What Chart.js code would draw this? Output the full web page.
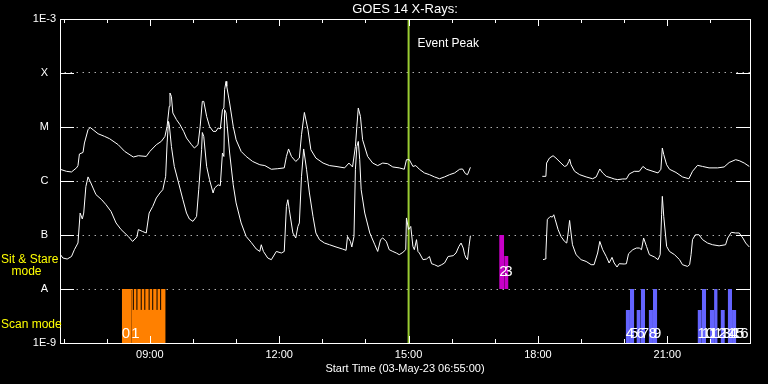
<!DOCTYPE html>
<html><head><meta charset="utf-8">
<script src="https://cdn.jsdelivr.net/npm/chart.js@4/dist/chart.umd.min.js"></script>
<style>html,body{margin:0;padding:0;background:#000;}canvas{display:block;}</style>
</head><body>
<canvas id="c" width="768" height="384"></canvas>
<script>
// ---- data ----
const upperTimes = [
'06:55','07:04','07:11','07:18','07:20','07:22','07:27','07:29','07:34','07:37',
'07:41','07:48','07:57','08:04','08:16','08:25','08:37','08:44','08:55','09:00',
'09:09','09:16','09:21','09:24','09:27','09:28','09:30','09:32','09:37','09:42',
'09:47','09:51','09:58','10:02','10:07','10:10','10:13','10:15','10:19','10:23',
'10:28','10:32','10:35','10:38','10:41','10:43','10:44','10:46','10:47','10:51',
'10:56','11:00','11:07','11:14','11:23','11:33','11:40','11:49','11:58','12:07',
'12:10','12:13','12:17','12:23','12:28','12:31','12:35','12:40','12:44','12:51',
'13:01','13:10','13:19','13:31','13:37','13:42','13:46','13:48','13:50','13:53',
'13:56','14:03','14:10','14:17','14:24','14:31','14:38','14:47','14:54','14:57',
'15:01','15:06','15:10','15:15','15:22','15:29','15:36','15:43','15:50','15:57',
'16:04','16:11','16:15','16:19','16:22','16:26','17:00','18:06','18:11','18:12',
'18:16','18:21','18:25','18:32','18:37','18:40','18:43','18:44','18:46','18:51',
'18:58','19:07','19:16','19:21','19:26','19:30','19:35','19:42','19:46','19:51',
'19:58','20:03','20:07','20:14','20:21','20:26','20:31','20:40','20:47','20:51',
'20:53','20:55','20:59','21:03','21:12','21:21','21:30','21:35','21:42','21:49',
'21:58','22:10','22:19','22:26','22:35','22:40','22:47','22:54'];
const upperFlux = [
1.65e-6,1.51e-6,1.47e-6,1.75e-6,1.93e-6,3.16e-6,3.38e-6,5.06e-6,8.9e-6,9.8e-6,
8.9e-6,7.5e-6,6.7e-6,6.07e-6,4.7e-6,3.53e-6,2.78e-6,2.94e-6,2.85e-6,3.53e-6,
4.7e-6,5.42e-6,6.7e-6,1.03e-5,2.41e-5,4.26e-5,3.69e-5,1.82e-5,1.37e-5,1.10e-5,
8.3e-6,6.25e-6,4.7e-6,4.08e-6,4.7e-6,1.03e-5,2.98e-5,2.98e-5,1.57e-5,1.03e-5,
8.3e-6,8.3e-6,9.6e-6,9.2e-6,2.09e-5,2.25e-5,4.9e-5,7.0e-5,5.65e-5,2.78e-5,
1.03e-5,5.8e-6,3.53e-6,2.85e-6,2.3e-6,2.0e-6,1.93e-6,1.65e-6,1.69e-6,1.75e-6,
2.85e-6,3.92e-6,2.85e-6,2.3e-6,2.66e-6,7.2e-6,1.86e-5,8.9e-6,3.8e-6,2.66e-6,
2.15e-6,1.93e-6,1.86e-6,1.75e-6,2.15e-6,1.82e-6,4.37e-6,1.03e-5,2.25e-5,1.57e-5,
5.8e-6,2.85e-6,2.15e-6,1.93e-6,2.15e-6,2.09e-6,1.82e-6,1.75e-6,1.65e-6,2.48e-6,
2.48e-6,1.86e-6,1.93e-6,1.65e-6,1.41e-6,1.31e-6,1.19e-6,1.10e-6,1.19e-6,1.31e-6,
1.41e-6,1.65e-6,1.67e-6,1.37e-6,1.31e-6,1.79e-6,null,1.22e-6,1.22e-6,2.15e-6,
2.66e-6,2.94e-6,2.66e-6,2.15e-6,1.86e-6,1.93e-6,2.3e-6,2.55e-6,2.0e-6,1.51e-6,
1.31e-6,1.19e-6,1.10e-6,1.19e-6,1.67e-6,1.41e-6,1.22e-6,1.14e-6,1.09e-6,1.06e-6,
1.09e-6,1.09e-6,1.35e-6,1.51e-6,1.51e-6,1.86e-6,1.65e-6,1.51e-6,1.41e-6,1.65e-6,
4.08e-6,3.08e-6,2.0e-6,1.65e-6,1.44e-6,1.19e-6,1.10e-6,1.51e-6,1.95e-6,1.86e-6,
1.75e-6,1.75e-6,1.82e-6,2.2e-6,2.48e-6,2.38e-6,2.15e-6,1.86e-6];

const lowerTimes = [
'06:55','06:59','07:05','07:11','07:15','07:20','07:21','07:23','07:26','07:28',
'07:31','07:34','07:37','07:41','07:45','07:53','07:59','08:06','08:13','08:20',
'08:30','08:36','08:42','08:44','08:50','08:55','08:59','09:04','09:09','09:14',
'09:18','09:22','09:24','09:26','09:27','09:30','09:34','09:40','09:46','09:51',
'09:55','10:00','10:05','10:08','10:12','10:13','10:15','10:19','10:23','10:28',
'10:30','10:35','10:38','10:41','10:43','10:44','10:46','10:51','10:56','11:00',
'11:07','11:14','11:21','11:28','11:33','11:35','11:38','11:44','11:49','11:56',
'12:03','12:07','12:10','12:12','12:14','12:19','12:23','12:26','12:28','12:31',
'12:34','12:38','12:42','12:47','12:51','12:56','13:03','13:10','13:19','13:28',
'13:33','13:35','13:39','13:41','13:44','13:46','13:48','13:50','13:52','13:54',
'13:59','14:06','14:13','14:17','14:21','14:24','14:29','14:33','14:38','14:43',
'14:47','14:52','14:56','14:57','15:00','15:03','15:06','15:08','15:11','15:13',
'15:15','15:20','15:25','15:29','15:32','15:36','15:41','15:46','15:50','15:55',
'16:02','16:06','16:10','16:13','16:16','16:18','16:20','16:22','16:24','16:26',
'17:00','18:07','18:10','18:11','18:13','18:15','18:17','18:20','18:22','18:24',
'18:28','18:32','18:37','18:40','18:42','18:44','18:46','18:48','18:53','19:00',
'19:07','19:14','19:18','19:23','19:26','19:30','19:35','19:39','19:43','19:46',
'19:50','19:53','20:00','20:03','20:06','20:12','20:17','20:21','20:24','20:27',
'20:31','20:35','20:42','20:47','20:50','20:52','20:53','20:55','20:59','21:03',
'21:10','21:17','21:21','21:28','21:31','21:33','21:35','21:39','21:44','21:49',
'21:56','22:03','22:12','22:21','22:24','22:29','22:35','22:40','22:45','22:49',
'22:54'];
const lowerFlux = [
4.45e-8,3.75e-8,3.59e-8,4.0e-8,5.35e-8,7.11e-8,1.09e-7,2.55e-7,1.98e-7,2.55e-7,
7.9e-7,1.19e-6,9.8e-7,7.4e-7,5.6e-7,4.5e-7,3.64e-7,2.73e-7,1.67e-7,1.26e-7,
9.4e-8,7.6e-8,9.2e-8,1.26e-7,1.16e-7,1.09e-7,2.55e-7,3.38e-7,4.85e-7,6.0e-7,
6.9e-7,1.22e-6,5.06e-6,1.27e-5,1.10e-5,4.37e-6,1.86e-6,9.2e-7,4.5e-7,2.55e-7,
1.98e-7,1.79e-7,2.2e-7,6.9e-7,3.8e-6,7.9e-6,6.7e-6,1.86e-6,1.06e-6,6.0e-7,
7.4e-7,8.5e-7,8.2e-7,3.3e-6,2.85e-6,2.09e-5,1.82e-5,3.3e-6,8.5e-7,3.92e-7,
1.67e-7,9.4e-8,7.3e-8,5.51e-8,4.96e-8,6.6e-8,4.96e-8,3.75e-8,3.49e-8,4.96e-8,
4.64e-8,4.96e-8,3.38e-7,4.5e-7,2.94e-7,1.09e-7,8.8e-8,1.44e-7,1.67e-7,1.22e-6,
3.92e-6,1.65e-6,6.0e-7,2.2e-7,1.09e-7,8.2e-8,7.1e-8,6.6e-8,6.0e-8,5.5e-8,
5.2e-8,9.4e-8,7.6e-8,6.0e-8,9.4e-8,1.65e-6,4.37e-6,5.4e-6,2.48e-6,6.9e-7,
2.55e-7,1.09e-7,6.6e-8,4.96e-8,8.2e-8,8.8e-8,7.6e-8,5.35e-8,4.96e-8,4.64e-8,
4.32e-8,4.76e-8,5.35e-8,2.07e-7,1.26e-7,1.44e-7,6.15e-8,5.35e-8,8.2e-8,4.96e-8,
4.64e-8,3.49e-8,3.59e-8,4.0e-8,2.94e-8,2.82e-8,2.62e-8,2.82e-8,3.03e-8,4.0e-8,
4.14e-8,4.64e-8,6.15e-8,7.1e-8,5.74e-8,4.32e-8,3.75e-8,3.49e-8,6.15e-8,9.7e-8,
null,3.49e-8,3.59e-8,4.64e-8,1.93e-7,2.07e-7,2.2e-7,2.15e-7,2.37e-7,1.93e-7,
1.26e-7,9.4e-8,7.6e-8,7.1e-8,1.09e-7,1.86e-7,1.09e-7,6.6e-8,4.32e-8,3.49e-8,
3.24e-8,2.82e-8,2.82e-8,4.64e-8,7.6e-8,5.35e-8,4.0e-8,3.03e-8,3.85e-8,3.03e-8,
2.55e-8,2.94e-8,2.9e-8,2.94e-8,4.5e-8,5.35e-8,5.74e-8,5.74e-8,5.35e-8,8.8e-8,
6.15e-8,4.32e-8,3.92e-8,3.49e-8,4.32e-8,2.37e-7,5.2e-7,2.2e-7,6.15e-8,4.96e-8,
4.32e-8,3.49e-8,2.82e-8,2.62e-8,2.82e-8,4.32e-8,8.2e-8,1.01e-7,1.01e-7,8.2e-8,
7.1e-8,6.6e-8,6.3e-8,6.6e-8,8.8e-8,1.12e-7,1.09e-7,1.09e-7,8.8e-8,7.1e-8,
6.0e-8];

// rasters (observation blocks)
const rasterLabels  = ['0','1','2','3','4','5','6','7','8','9','10','11','12','13','14','15','16'];
const rasterStart   = ['08:21','08:34','17:06','17:13','20:02','20:08','20:17','20:23','20:34','20:40','21:42','21:48','21:59','22:05','22:14','22:24','22:30'];
const rasterEnd     = ['08:34','09:22','17:13','17:19','20:08','20:14','20:23','20:29','20:40','20:46','21:48','21:54','22:05','22:10','22:20','22:30','22:36'];
const rasterMode    = ['scan','scan','sas','sas','scan','scan','scan','scan','scan','scan','scan','scan','scan','scan','scan','scan','scan'];
const rasterTop     = [1e-8,1e-8,1e-7,4.1e-8,4.1e-9,1e-8,4.1e-9,1e-8,4.1e-9,1e-8,4.1e-9,1e-8,4.1e-9,1e-8,4.1e-9,1e-8,4.1e-9];
const rasterProgram = ['A','A','B','B','C','C','C','C','C','C','C','C','C','C','C','C','C'];
const exposureTimes = ['08:37','08:42','08:48','08:53','08:59','09:04','09:10','09:15'];
const exposureLevels = [4.1e-9, 1e-8];
const modeBase = {scan: 1e-9, sas: 1e-8};
const eventPeakTime = '15:00';
const startTime = '06:55', endTime = '22:55';
const hourTicks = [7,8,9,10,11,12,13,14,15,16,17,18,19,20,21,22];
const yTickValues = [1e-9,1e-8,1e-7,1e-6,1e-5,1e-4,1e-3];
const yTickLabels = ['1E-9','A','B','C','M','X','1E-3'];

// ---- styles ----
const programColor = {A:'#ff8000', B:'#c800c8', C:'#6464ff'};
const FONT = 'Liberation Sans';
Chart.defaults.font.family = FONT;

function toHours(s){const p=s.split(':').map(Number);return p[0]+p[1]/60;}
function series(times, vals){return times.map((t,i)=>({x:toHours(t), y:vals[i]}));}

const datasets = [];
datasets.push({label:'upper', data:series(upperTimes,upperFlux), borderColor:'#ffffff', borderWidth:1, pointRadius:0, tension:0, spanGaps:false, order:1});
datasets.push({label:'lower', data:series(lowerTimes,lowerFlux), borderColor:'#ffffff', borderWidth:1, pointRadius:0, tension:0, spanGaps:false, order:2});
datasets.push({label:'peak', data:[{x:toHours(eventPeakTime),y:yTickValues[0]},{x:toHours(eventPeakTime),y:yTickValues[6]}], borderColor:'#9acd32', borderWidth:2, pointRadius:0, order:3});
const expData=[];
exposureTimes.forEach(t=>{const x=toHours(t);expData.push({x,y:exposureLevels[0]},{x,y:exposureLevels[1]},{x,y:null});});
datasets.push({label:'exposures', data:expData, borderColor:'#000000', borderWidth:1, pointRadius:0, spanGaps:false, order:4});
rasterStart.forEach((s,i)=>{
  datasets.push({label:'raster'+rasterLabels[i], data:[{x:toHours(s),y:rasterTop[i]},{x:toHours(rasterEnd[i]),y:rasterTop[i]}],
    borderColor:'rgba(0,0,0,0)', borderWidth:0, pointRadius:0, backgroundColor:programColor[rasterProgram[i]],
    fill:{value:modeBase[rasterMode[i]]}, order:10+i});
});

const labelLevel = {scan:1.24e-9, sas:1.71e-8};
const decor = {
  id:'decor',
  afterDatasetsDraw(chart){
    const {ctx, chartArea:a, scales:{x,y}} = chart;
    ctx.save();
    // raster labels
    ctx.fillStyle='#fff'; ctx.font='15px "'+FONT+'"'; ctx.textAlign='left'; ctx.textBaseline='alphabetic';
    rasterStart.forEach((s,i)=>{
      ctx.fillText(rasterLabels[i], x.getPixelForValue(toHours(s)), y.getPixelForValue(labelLevel[rasterMode[i]]));
    });
    // frame
    ctx.strokeStyle='#fff'; ctx.lineWidth=1;
    ctx.strokeRect(a.left+0.5, a.top+0.5, a.right-a.left, a.bottom-a.top);
    ctx.beginPath();
    hourTicks.forEach(h=>{
      const px=Math.round(x.getPixelForValue(h))+0.5; const len = h%3===0?7:4;
      ctx.moveTo(px,a.top); ctx.lineTo(px,a.top+len);
      ctx.moveTo(px,a.bottom); ctx.lineTo(px,a.bottom-len);
    });
    yTickValues.slice(1,-1).forEach(v=>{
      const py=Math.round(y.getPixelForValue(v))+0.5;
      ctx.moveTo(a.left,py); ctx.lineTo(a.left+14,py);
      ctx.moveTo(a.right-14,py); ctx.lineTo(a.right+1,py);
    });
    ctx.stroke();
    // event peak label
    ctx.font='12px "'+FONT+'"';
    ctx.fillText('Event Peak', x.getPixelForValue(toHours(eventPeakTime))+9, a.top+28);
    // mode labels
    ctx.fillStyle='#ffff00';
    ctx.fillText('Sit & Stare', 1, 263);
    ctx.fillText('mode', 11.5, 274.5);
    ctx.fillText('Scan mode', 1, 327.5);
    ctx.restore();
  }
};

new Chart(document.getElementById('c'), {
  type:'line',
  data:{datasets},
  options:{
    responsive:false, animation:false, devicePixelRatio:1,
    layout:{padding:{top:0,right:18,bottom:0,left:0}},
    plugins:{
      legend:{display:false}, tooltip:{enabled:false},
      title:{display:true, text:'GOES 14 X-Rays:', color:'#fff', fullSize:false,
        font:{family:FONT,size:13,weight:'normal',lineHeight:1.2}, padding:{top:2,bottom:1.4}}
    },
    scales:{
      x:{type:'linear', min:toHours(startTime), max:toHours(endTime),
        afterBuildTicks:s=>{s.ticks=hourTicks.map(v=>({value:v}));},
        ticks:{color:'#fff', font:{size:11}, padding:5, maxRotation:0, autoSkip:false,
          callback:v=> v%3===0 ? String(v).padStart(2,'0')+':00' : ''},
        grid:{display:false, drawTicks:false}, border:{display:false},
        title:{display:true, text:'Start Time (03-May-23 06:55:00)', color:'#fff', font:{size:11}, padding:{top:0,bottom:8}},
        afterFit:s=>{s.height=41;}
      },
      y:{type:'logarithmic', min:yTickValues[0], max:yTickValues[6],
        afterBuildTicks:s=>{s.ticks=yTickValues.map(v=>({value:v}));},
        ticks:{color:'#fff', font:{size:11}, padding:4, crossAlign:'center', autoSkip:false,
          callback:v=> yTickLabels[Math.round(Math.log10(v))+9]},
        grid:{drawTicks:false, lineWidth:1,
          color:c=>{const v=c.tick&&c.tick.value; const e=Math.round(Math.log10(v)); return (e>-9&&e<-3)?'#ffffff':'rgba(0,0,0,0)';}},
        border:{display:false, dash:[1,5], dashOffset:1.3},
        afterFit:s=>{s.width=60;}
      }
    }
  },
  plugins:[decor]
});
</script>
</body></html>
